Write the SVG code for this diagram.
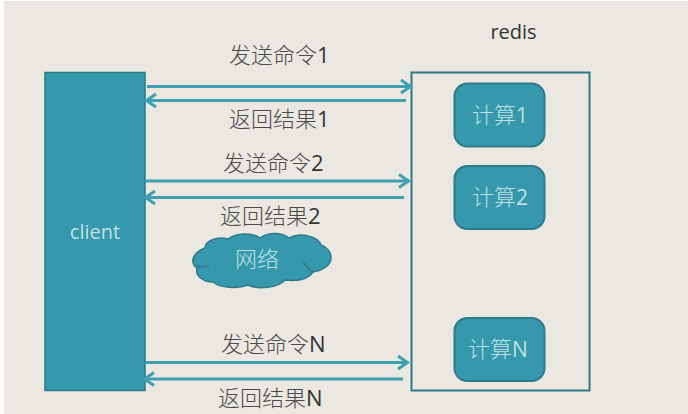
<svg xmlns="http://www.w3.org/2000/svg" width="688" height="414" viewBox="0 0 688 414">
<style>
.t{font-family:"Noto Sans CJK SC","Noto Sans",sans-serif;font-size:22px;font-weight:300;fill:#4a4a4a}
.w{fill:#bfe0e4;font-size:22px;text-anchor:middle}
.l{font-family:"Open Sans","Noto Sans CJK SC",sans-serif;font-size:20px;font-weight:400}
.d{font-family:"Open Sans",sans-serif;font-size:22px;font-weight:400;fill:#333}
.e{font-family:"Open Sans",sans-serif;font-size:21px;font-weight:400}
.box{fill:#3598ac;stroke:#2f7a8a;stroke-width:2}
.c{fill:none;stroke:#3ea0b0;stroke-width:3;marker-end:url(#a)}
</style>
<defs>
<marker id="a" markerUnits="userSpaceOnUse" markerWidth="16" markerHeight="18" refX="13" refY="8" orient="auto">
<path d="M3 1.500L12.500 8L3 14.500" fill="none" stroke="#3ea0b0" stroke-width="3"/>
</marker>
</defs>
<rect width="688" height="414" fill="#ffffff"/>
<rect x="4" y="1" width="684" height="413" fill="#ebe7e1"/>
<g id="client"><rect x="45" y="72.500" width="100" height="318" fill="#3598ac" stroke="#2a7886" stroke-width="1.500"/>
<text class="t w l" x="95" y="239">client</text></g>
<g id="redis"><rect x="411.500" y="72.500" width="178" height="318" fill="none" stroke="#2b7a88" stroke-width="2"/>
<text class="t l" x="513.500" y="39" text-anchor="middle" style="fill:#333">redis</text></g>
<g id="calc1"><rect class="box" x="454.500" y="83.500" width="90" height="63" rx="13"/><text class="t w" x="500" y="123">计算<tspan class="e">1</tspan></text></g>
<g id="calc2"><rect class="box" x="454.500" y="166" width="90" height="63" rx="13"/><text class="t w" x="500" y="205">计算<tspan class="e">2</tspan></text></g>
<g id="calcN"><rect class="box" x="454.500" y="318" width="90" height="63" rx="13"/><text class="t w" x="498" y="357">计算<tspan class="e">N</tspan></text></g>
<g id="cloud"><path d="M205 248C205 241 217 236 228 239C236 233 252 232 260 238C268 232 282 232 289 238C300 232 318 236 321 245C327 247 331 252 331 258C331 265 322 271 313 272C308 280 295 281 285 280C278 288 258 290 248 285C238 289 220 288 213 282C203 282 195 276 197 268C191 264 190 254 205 248Z" fill="#3598ac" stroke="#2f7a8a" stroke-width="1.500"/>
<path d="M197 266C202 268 204 266 209 266M303 262C306 266 310 270 313 272" fill="none" stroke="#2f7a8a" stroke-width="1.500"/>
<text class="t w" x="257" y="267">网络</text></g>
<g id="connectors">
<path class="c" d="M147 86.500H411"/><path class="c" d="M406 100.500H146"/>
<path class="c" d="M145 181H409"/><path class="c" d="M404 197.500H145"/>
<path class="c" d="M145 362.500H408"/><path class="c" d="M403 379H144"/>
</g>
<g id="labels">
<text class="t" x="229" y="63">发送命令<tspan class="d">1</tspan></text>
<text class="t" x="229" y="127">返回结果<tspan class="d">1</tspan></text>
<text class="t" x="223" y="171">发送命令<tspan class="d">2</tspan></text>
<text class="t" x="220" y="224">返回结果<tspan class="d">2</tspan></text>
<text class="t" x="221" y="352">发送命令<tspan class="d">N</tspan></text>
<text class="t" x="218" y="406">返回结果<tspan class="d">N</tspan></text>
</g>
</svg>
